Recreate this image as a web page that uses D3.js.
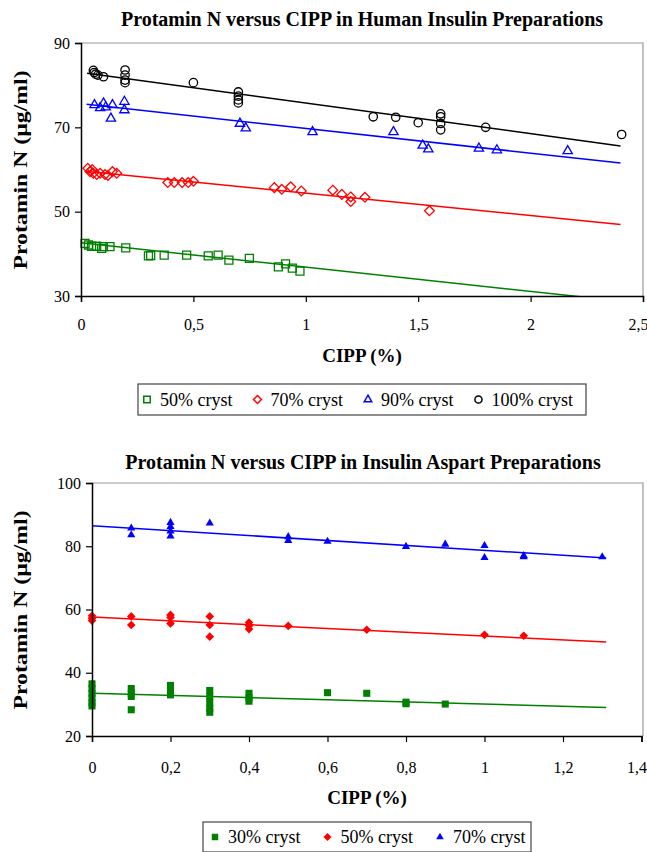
<!DOCTYPE html>
<html>
<head>
<meta charset="utf-8">
<script src="https://cdnjs.cloudflare.com/ajax/libs/d3/7.8.5/d3.min.js"></script>
<style>
  body { margin: 0; background: #fff; }
  svg, svg text { font-family: "Liberation Serif", "Times New Roman", Times, "DejaVu Serif", serif; }
</style>
</head>
<body>
<div id="chart-area"></div>
<script>
const width = 647, height = 852;
const serif = "'Liberation Serif', 'Times New Roman', Times, 'DejaVu Serif', serif";

// ---- data: top chart (Human Insulin) ----
const topSeries = ["50% cryst", "70% cryst", "90% cryst", "100% cryst"];
const top50 = [[0.018,42.5],[0.033,42.1],[0.047,41.8],[0.07,41.8],[0.092,41.3],[0.10,41.7],[0.129,41.7],
  [0.199,41.4],[0.30,39.5],[0.31,39.6],[0.37,39.7],[0.47,39.7],[0.566,39.5],[0.61,39.7],[0.658,38.5],
  [0.749,38.9],[0.878,36.9],[0.91,37.6],[0.94,36.6],[0.974,35.9]];
const top70 = [[0.03,60.3],[0.04,59.5],[0.05,60.0],[0.055,59.1],[0.07,58.8],[0.085,59.1],[0.107,58.8],
  [0.12,58.6],[0.14,59.5],[0.159,59.1],[0.386,56.9],[0.415,56.9],[0.45,56.9],[0.477,56.9],[0.50,57.2],
  [0.86,55.7],[0.893,55.3],[0.933,55.9],[0.98,54.9],[1.12,55.1],[1.16,54.1],[1.20,53.5],[1.20,52.4],
  [1.263,53.4],[1.55,50.2]];
const top90 = [[0.06,75.3],[0.085,74.6],[0.10,75.7],[0.11,74.8],[0.133,72.1],[0.14,75.3],[0.193,76.1],
  [0.193,74.1],[0.707,70.9],[0.733,69.8],[1.03,68.9],[1.39,68.9],[1.52,65.7],[1.545,64.8],[1.77,65.0],
  [1.85,64.6],[2.165,64.4]];
const top100 = [[0.055,83.5],[0.059,83.0],[0.065,82.6],[0.075,82.4],[0.10,82.0],[0.196,83.6],[0.196,82.4],
  [0.196,81.2],[0.196,80.6],[0.50,80.6],[0.70,78.4],[0.70,77.4],[0.70,76.5],[0.70,75.8],[1.30,72.5],
  [1.40,72.4],[1.50,71.1],[1.60,73.2],[1.60,72.5],[1.60,70.9],[1.60,69.4],[1.80,70.0],[2.405,68.3]];
// trend lines: [xStart, xEnd, intercept, slope]
const topTrends = [[0, 2.40, 42.6, -5.75], [0.02, 2.40, 59.7, -5.3], [0.025, 2.40, 75.6, -5.86], [0.027, 2.40, 83.0, -7.25]];
const topXTicks = [0, 0.5, 1, 1.5, 2, 2.5];
const topYTicks = [30, 50, 70, 90];

// ---- data: bottom chart (Insulin Aspart) ----
const botSeries = ["30% cryst", "50% cryst", "70% cryst"];
const bot30 = [[0,36.5],[0,35],[0,33.5],[0,32],[0,30.5],[0,29.5],[0.1,35],[0.1,33.5],[0.1,32.5],[0.1,28.3],
  [0.2,36],[0.2,34.5],[0.2,33],[0.3,34.4],[0.3,32.5],[0.3,30.5],[0.3,28.7],[0.3,27.5],[0.4,33.5],[0.4,32],
  [0.4,31],[0.6,33.7],[0.7,33.5],[0.8,30.7],[0.8,30.2],[0.9,30.1]];
const bot50 = [[0,58],[0,57.2],[0,56.5],[0.1,57.8],[0.1,55.1],[0.2,58.3],[0.2,57.5],[0.2,55.6],[0.3,57.8],
  [0.3,55.1],[0.3,51.4],[0.4,55.9],[0.4,54.9],[0.4,53.8],[0.5,54.8],[0.7,53.6],[1.0,52.0],[1.1,51.7]];
const bot70 = [[0.1,85.7],[0.1,83.6],[0.2,87.5],[0.2,86.2],[0.2,84.8],[0.2,83.2],[0.3,87.3],[0.5,83.0],
  [0.5,81.8],[0.6,81.5],[0.8,79.9],[0.9,80.6],[1.0,80.2],[1.0,76.4],[1.1,77.0],[1.1,76.6],[1.3,76.6]];
const botTrends = [[0, 1.31, 33.5, -3.4], [0, 1.31, 57.6, -6.0], [0, 1.31, 86.5, -7.8]];
const botXTicks = [0, 0.2, 0.4, 0.6, 0.8, 1.0, 1.2, 1.4];
const botYTicks = [20, 40, 60, 80, 100];

const green = "#008000", red = "#ff0000", blue = "#0000ff", black = "#000000";
const fmt = d => String(d).replace(".", ",");

const svg = d3.select("#chart-area").append("svg")
  .attr("width", width).attr("height", height)
  .attr("font-family", serif);

function symbolPath(kind, size) {
  const s = { square: d3.symbolSquare, diamond: d3.symbolDiamond2, triangle: d3.symbolTriangle2, circle: d3.symbolCircle }[kind];
  return d3.symbol(s, size)();
}

function drawChart(cfg) {
  const x = d3.scaleLinear().domain(cfg.xDomain).range([cfg.left, cfg.right]);
  const y = d3.scaleLinear().domain(cfg.yDomain).range([cfg.bottom, cfg.top]);
  const g = svg.append("g");

  // plot frame (grey top/right)
  g.append("path")
    .attr("d", `M${cfg.left},${cfg.top}H${cfg.frameRight}V${cfg.bottom}`)
    .attr("fill", "none").attr("stroke", "#999").attr("stroke-width", 1.2);

  const clipId = "clip" + cfg.id;
  svg.append("clipPath").attr("id", clipId).append("rect")
    .attr("x", cfg.left).attr("y", cfg.top)
    .attr("width", cfg.frameRight - cfg.left).attr("height", cfg.bottom - cfg.top);

  // trend lines
  const line = d3.line().x(d => x(d[0])).y(d => y(d[1]));
  g.append("g").attr("clip-path", `url(#${clipId})`)
    .selectAll("path").data(cfg.trends).join("path")
    .attr("d", t => line([[t[0], t[2] + t[3] * t[0]], [t[1], t[2] + t[3] * t[1]]]))
    .attr("fill", "none")
    .attr("stroke", (t, i) => cfg.colors[i])
    .attr("stroke-width", 1.5);

  // markers
  cfg.series.forEach((data, i) => {
    g.append("g").selectAll("path").data(data).join("path")
      .attr("transform", d => `translate(${x(d[0])},${y(d[1])})`)
      .attr("d", symbolPath(cfg.shapes[i], cfg.sizes[i]))
      .attr("fill", cfg.filled ? cfg.colors[i] : "none")
      .attr("stroke", cfg.filled ? "none" : cfg.colors[i])
      .attr("stroke-width", 1.3);
  });

  // axes
  const xAxis = g.append("g")
    .attr("transform", `translate(0,${cfg.bottom})`)
    .call(d3.axisBottom(x).tickValues(cfg.xTicks).tickFormat(fmt).tickSize(6).tickPadding(cfg.xPad));
  const yAxis = g.append("g")
    .attr("transform", `translate(${cfg.left},0)`)
    .call(d3.axisLeft(y).tickValues(cfg.yTicks).tickSize(6).tickPadding(5));
  [xAxis, yAxis].forEach(a => {
    a.attr("font-family", serif);
    a.select(".domain").attr("stroke", "#000").attr("stroke-width", 1.5);
    a.selectAll(".tick line").attr("stroke", "#000").attr("stroke-width", 1.2);
    a.selectAll(".tick text").attr("font-size", 16).attr("fill", "#000");
  });
  // keep the last x label inside the page
  xAxis.select(".tick:last-of-type text").attr("dx", -5);

  // titles
  g.append("text").attr("x", cfg.titleX).attr("y", cfg.titleY)
    .attr("text-anchor", "middle").attr("font-size", 20).attr("font-weight", "bold")
    .text(cfg.title);
  g.append("text").attr("x", cfg.xLabelX).attr("y", cfg.xLabelY)
    .attr("text-anchor", "middle").attr("font-size", 19).attr("font-weight", "bold")
    .text("CIPP (%)");
  g.append("text")
    .attr("transform", `translate(${cfg.yLabelX},${cfg.yLabelY}) rotate(-90) scale(1.25,1)`)
    .attr("text-anchor", "middle").attr("font-size", 19).attr("font-weight", "bold")
    .text("Protamin N (µg/ml)");

  // legend
  const lg = g.append("g");
  lg.append("rect").attr("x", cfg.legend.x).attr("y", cfg.legend.y)
    .attr("width", cfg.legend.w).attr("height", cfg.legend.h)
    .attr("fill", "#fff").attr("stroke", "#444").attr("stroke-width", 1.2);
  let lx = cfg.legend.x + cfg.legend.pad;
  const ly = cfg.legend.y + cfg.legend.h / 2;
  cfg.names.forEach((name, i) => {
    lg.append("path").attr("transform", `translate(${lx},${ly})`)
      .attr("d", symbolPath(cfg.shapes[i], cfg.legendSizes[i]))
      .attr("fill", cfg.filled ? cfg.colors[i] : "none")
      .attr("stroke", cfg.filled ? "none" : cfg.colors[i])
      .attr("stroke-width", 1.5);
    const t = lg.append("text").attr("x", lx + 13).attr("y", ly + 6)
      .attr("font-size", 18).text(name);
    lx += 13 + t.node().getComputedTextLength() + cfg.legend.gap;
  });
}

drawChart({
  id: "top",
  xDomain: [0, 2.5], yDomain: [30, 90],
  left: 81, right: 643, frameRight: 643, top: 43, bottom: 296,
  series: [top50, top70, top90, top100],
  trends: topTrends,
  colors: [green, red, blue, black],
  shapes: ["square", "diamond", "triangle", "circle"],
  sizes: [64, 60, 62, 55], legendSizes: [42, 40, 40, 40],
  filled: false,
  names: topSeries,
  xTicks: topXTicks, yTicks: topYTicks, xPad: 17,
  title: "Protamin N versus CIPP in Human Insulin Preparations",
  titleX: 362, titleY: 26,
  xLabelX: 362, xLabelY: 362, yLabelX: 27, yLabelY: 170,
  legend: { x: 138, y: 384, w: 448, h: 31, pad: 9, gap: 25 }
});

drawChart({
  id: "bot",
  xDomain: [0, 1.4], yDomain: [20, 100],
  left: 92, right: 641.5, frameRight: 643, top: 483, bottom: 736,
  series: [bot30, bot50, bot70],
  trends: botTrends,
  colors: [green, red, blue],
  shapes: ["square", "diamond", "triangle"],
  sizes: [50, 48, 48], legendSizes: [42, 40, 40],
  filled: true,
  names: botSeries,
  xTicks: botXTicks, yTicks: botYTicks, xPad: 20,
  title: "Protamin N versus CIPP in Insulin Aspart Preparations",
  titleX: 363, titleY: 469,
  xLabelX: 367, xLabelY: 804, yLabelX: 27, yLabelY: 610,
  legend: { x: 203, y: 822, w: 328, h: 30, pad: 12, gap: 27 }
});
</script>
</body>
</html>
